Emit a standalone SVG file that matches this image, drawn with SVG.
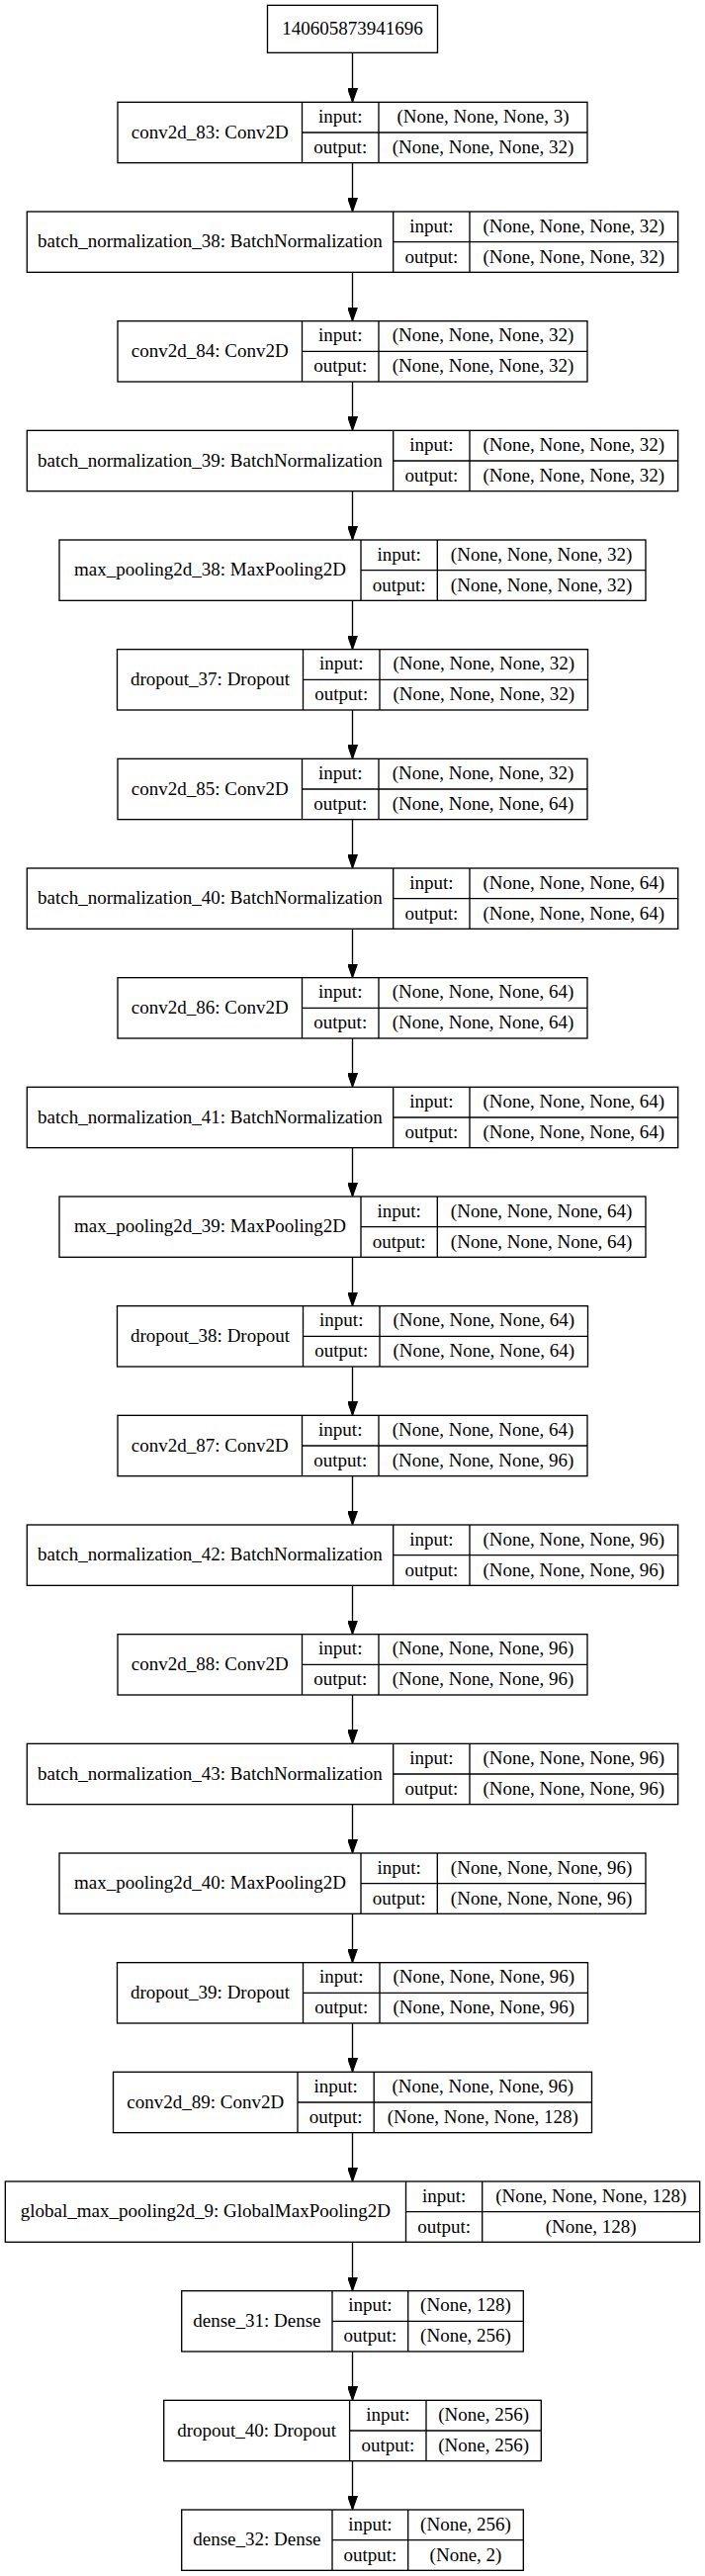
<svg xmlns="http://www.w3.org/2000/svg" width="713" height="2605" viewBox="0 0 713 2605">
<style>
.bx{fill:#fff;stroke:#000;stroke-width:1.33}
.ln{fill:none;stroke:#000;stroke-width:1.33}
.t{font-family:"Liberation Serif","Times New Roman",serif;font-size:19px;text-anchor:middle;fill:#000}
.e{fill:none;stroke:#000;stroke-width:1.33;marker-end:url(#ah)}
</style>
<defs>
<marker id="ah" markerUnits="userSpaceOnUse" markerWidth="14" markerHeight="10" viewBox="0 0 13.33 9.33" refX="13.33" refY="4.67" orient="auto">
<path d="M0,0 L13.33,4.67 L0,9.33 z" fill="#000" stroke="#000" stroke-width="1"/>
</marker>
</defs>
<rect width="713" height="2605" fill="#fff"/>
<g id="edges">
<path class="e" d="M356.5,53.33 V103.33"/>
<path class="e" d="M356.5,164.67 V214"/>
<path class="e" d="M356.5,275.33 V324.67"/>
<path class="e" d="M356.5,386 V435.33"/>
<path class="e" d="M356.5,496.67 V546"/>
<path class="e" d="M356.5,607.33 V656.67"/>
<path class="e" d="M356.5,718 V767.33"/>
<path class="e" d="M356.5,828.67 V878"/>
<path class="e" d="M356.5,939.33 V988.67"/>
<path class="e" d="M356.5,1050 V1099.33"/>
<path class="e" d="M356.5,1160.67 V1210"/>
<path class="e" d="M356.5,1271.33 V1320.67"/>
<path class="e" d="M356.5,1382 V1431.33"/>
<path class="e" d="M356.5,1492.67 V1542"/>
<path class="e" d="M356.5,1603.33 V1652.67"/>
<path class="e" d="M356.5,1714 V1763.33"/>
<path class="e" d="M356.5,1824.67 V1874"/>
<path class="e" d="M356.5,1935.33 V1984.67"/>
<path class="e" d="M356.5,2046 V2095.33"/>
<path class="e" d="M356.5,2156.67 V2206"/>
<path class="e" d="M356.5,2267.33 V2316.67"/>
<path class="e" d="M356.5,2378 V2427.33"/>
<path class="e" d="M356.5,2488.67 V2538"/>
</g>
<g id="input_140605873941696">
<rect class="bx" x="270.5" y="5.33" width="172" height="48"/>
<text class="t" x="356.5" y="34.8">140605873941696</text>
</g>
<g id="conv2d_83" transform="translate(0,103.33)">
<rect class="bx" x="119" y="0" width="475" height="61.33"/>
<path class="ln" d="M305.5,0 V61.33 M383,0 V61.33 M305.5,30.67 H594"/>
<text class="t" x="212.25" y="36.2">conv2d_83: Conv2D</text>
<text class="t" x="344.25" y="20.8">input:</text>
<text class="t" x="344.25" y="51.5">output:</text>
<text class="t" x="488.5" y="20.8">(None, None, None, 3)</text>
<text class="t" x="488.5" y="51.5">(None, None, None, 32)</text>
</g>
<g id="batch_normalization_38" transform="translate(0,214)">
<rect class="bx" x="27.3" y="0" width="658.4" height="61.33"/>
<path class="ln" d="M397.7,0 V61.33 M475,0 V61.33 M397.7,30.67 H685.7"/>
<text class="t" x="212.5" y="36.2">batch_normalization_38: BatchNormalization</text>
<text class="t" x="436.35" y="20.8">input:</text>
<text class="t" x="436.35" y="51.5">output:</text>
<text class="t" x="580.35" y="20.8">(None, None, None, 32)</text>
<text class="t" x="580.35" y="51.5">(None, None, None, 32)</text>
</g>
<g id="conv2d_84" transform="translate(0,324.67)">
<rect class="bx" x="119" y="0" width="475" height="61.33"/>
<path class="ln" d="M305.5,0 V61.33 M383,0 V61.33 M305.5,30.67 H594"/>
<text class="t" x="212.25" y="36.2">conv2d_84: Conv2D</text>
<text class="t" x="344.25" y="20.8">input:</text>
<text class="t" x="344.25" y="51.5">output:</text>
<text class="t" x="488.5" y="20.8">(None, None, None, 32)</text>
<text class="t" x="488.5" y="51.5">(None, None, None, 32)</text>
</g>
<g id="batch_normalization_39" transform="translate(0,435.33)">
<rect class="bx" x="27.3" y="0" width="658.4" height="61.33"/>
<path class="ln" d="M397.7,0 V61.33 M475,0 V61.33 M397.7,30.67 H685.7"/>
<text class="t" x="212.5" y="36.2">batch_normalization_39: BatchNormalization</text>
<text class="t" x="436.35" y="20.8">input:</text>
<text class="t" x="436.35" y="51.5">output:</text>
<text class="t" x="580.35" y="20.8">(None, None, None, 32)</text>
<text class="t" x="580.35" y="51.5">(None, None, None, 32)</text>
</g>
<g id="max_pooling2d_38" transform="translate(0,546)">
<rect class="bx" x="60" y="0" width="593" height="61.33"/>
<path class="ln" d="M365,0 V61.33 M442.3,0 V61.33 M365,30.67 H653"/>
<text class="t" x="212.5" y="36.2">max_pooling2d_38: MaxPooling2D</text>
<text class="t" x="403.65" y="20.8">input:</text>
<text class="t" x="403.65" y="51.5">output:</text>
<text class="t" x="547.65" y="20.8">(None, None, None, 32)</text>
<text class="t" x="547.65" y="51.5">(None, None, None, 32)</text>
</g>
<g id="dropout_37" transform="translate(0,656.67)">
<rect class="bx" x="118.5" y="0" width="476" height="61.33"/>
<path class="ln" d="M306.5,0 V61.33 M384,0 V61.33 M306.5,30.67 H594.5"/>
<text class="t" x="212.5" y="36.2">dropout_37: Dropout</text>
<text class="t" x="345.25" y="20.8">input:</text>
<text class="t" x="345.25" y="51.5">output:</text>
<text class="t" x="489.25" y="20.8">(None, None, None, 32)</text>
<text class="t" x="489.25" y="51.5">(None, None, None, 32)</text>
</g>
<g id="conv2d_85" transform="translate(0,767.33)">
<rect class="bx" x="119" y="0" width="475" height="61.33"/>
<path class="ln" d="M305.5,0 V61.33 M383,0 V61.33 M305.5,30.67 H594"/>
<text class="t" x="212.25" y="36.2">conv2d_85: Conv2D</text>
<text class="t" x="344.25" y="20.8">input:</text>
<text class="t" x="344.25" y="51.5">output:</text>
<text class="t" x="488.5" y="20.8">(None, None, None, 32)</text>
<text class="t" x="488.5" y="51.5">(None, None, None, 64)</text>
</g>
<g id="batch_normalization_40" transform="translate(0,878)">
<rect class="bx" x="27.3" y="0" width="658.4" height="61.33"/>
<path class="ln" d="M397.7,0 V61.33 M475,0 V61.33 M397.7,30.67 H685.7"/>
<text class="t" x="212.5" y="36.2">batch_normalization_40: BatchNormalization</text>
<text class="t" x="436.35" y="20.8">input:</text>
<text class="t" x="436.35" y="51.5">output:</text>
<text class="t" x="580.35" y="20.8">(None, None, None, 64)</text>
<text class="t" x="580.35" y="51.5">(None, None, None, 64)</text>
</g>
<g id="conv2d_86" transform="translate(0,988.67)">
<rect class="bx" x="119" y="0" width="475" height="61.33"/>
<path class="ln" d="M305.5,0 V61.33 M383,0 V61.33 M305.5,30.67 H594"/>
<text class="t" x="212.25" y="36.2">conv2d_86: Conv2D</text>
<text class="t" x="344.25" y="20.8">input:</text>
<text class="t" x="344.25" y="51.5">output:</text>
<text class="t" x="488.5" y="20.8">(None, None, None, 64)</text>
<text class="t" x="488.5" y="51.5">(None, None, None, 64)</text>
</g>
<g id="batch_normalization_41" transform="translate(0,1099.33)">
<rect class="bx" x="27.3" y="0" width="658.4" height="61.33"/>
<path class="ln" d="M397.7,0 V61.33 M475,0 V61.33 M397.7,30.67 H685.7"/>
<text class="t" x="212.5" y="36.2">batch_normalization_41: BatchNormalization</text>
<text class="t" x="436.35" y="20.8">input:</text>
<text class="t" x="436.35" y="51.5">output:</text>
<text class="t" x="580.35" y="20.8">(None, None, None, 64)</text>
<text class="t" x="580.35" y="51.5">(None, None, None, 64)</text>
</g>
<g id="max_pooling2d_39" transform="translate(0,1210)">
<rect class="bx" x="60" y="0" width="593" height="61.33"/>
<path class="ln" d="M365,0 V61.33 M442.3,0 V61.33 M365,30.67 H653"/>
<text class="t" x="212.5" y="36.2">max_pooling2d_39: MaxPooling2D</text>
<text class="t" x="403.65" y="20.8">input:</text>
<text class="t" x="403.65" y="51.5">output:</text>
<text class="t" x="547.65" y="20.8">(None, None, None, 64)</text>
<text class="t" x="547.65" y="51.5">(None, None, None, 64)</text>
</g>
<g id="dropout_38" transform="translate(0,1320.67)">
<rect class="bx" x="118.5" y="0" width="476" height="61.33"/>
<path class="ln" d="M306.5,0 V61.33 M384,0 V61.33 M306.5,30.67 H594.5"/>
<text class="t" x="212.5" y="36.2">dropout_38: Dropout</text>
<text class="t" x="345.25" y="20.8">input:</text>
<text class="t" x="345.25" y="51.5">output:</text>
<text class="t" x="489.25" y="20.8">(None, None, None, 64)</text>
<text class="t" x="489.25" y="51.5">(None, None, None, 64)</text>
</g>
<g id="conv2d_87" transform="translate(0,1431.33)">
<rect class="bx" x="119" y="0" width="475" height="61.33"/>
<path class="ln" d="M305.5,0 V61.33 M383,0 V61.33 M305.5,30.67 H594"/>
<text class="t" x="212.25" y="36.2">conv2d_87: Conv2D</text>
<text class="t" x="344.25" y="20.8">input:</text>
<text class="t" x="344.25" y="51.5">output:</text>
<text class="t" x="488.5" y="20.8">(None, None, None, 64)</text>
<text class="t" x="488.5" y="51.5">(None, None, None, 96)</text>
</g>
<g id="batch_normalization_42" transform="translate(0,1542)">
<rect class="bx" x="27.3" y="0" width="658.4" height="61.33"/>
<path class="ln" d="M397.7,0 V61.33 M475,0 V61.33 M397.7,30.67 H685.7"/>
<text class="t" x="212.5" y="36.2">batch_normalization_42: BatchNormalization</text>
<text class="t" x="436.35" y="20.8">input:</text>
<text class="t" x="436.35" y="51.5">output:</text>
<text class="t" x="580.35" y="20.8">(None, None, None, 96)</text>
<text class="t" x="580.35" y="51.5">(None, None, None, 96)</text>
</g>
<g id="conv2d_88" transform="translate(0,1652.67)">
<rect class="bx" x="119" y="0" width="475" height="61.33"/>
<path class="ln" d="M305.5,0 V61.33 M383,0 V61.33 M305.5,30.67 H594"/>
<text class="t" x="212.25" y="36.2">conv2d_88: Conv2D</text>
<text class="t" x="344.25" y="20.8">input:</text>
<text class="t" x="344.25" y="51.5">output:</text>
<text class="t" x="488.5" y="20.8">(None, None, None, 96)</text>
<text class="t" x="488.5" y="51.5">(None, None, None, 96)</text>
</g>
<g id="batch_normalization_43" transform="translate(0,1763.33)">
<rect class="bx" x="27.3" y="0" width="658.4" height="61.33"/>
<path class="ln" d="M397.7,0 V61.33 M475,0 V61.33 M397.7,30.67 H685.7"/>
<text class="t" x="212.5" y="36.2">batch_normalization_43: BatchNormalization</text>
<text class="t" x="436.35" y="20.8">input:</text>
<text class="t" x="436.35" y="51.5">output:</text>
<text class="t" x="580.35" y="20.8">(None, None, None, 96)</text>
<text class="t" x="580.35" y="51.5">(None, None, None, 96)</text>
</g>
<g id="max_pooling2d_40" transform="translate(0,1874)">
<rect class="bx" x="60" y="0" width="593" height="61.33"/>
<path class="ln" d="M365,0 V61.33 M442.3,0 V61.33 M365,30.67 H653"/>
<text class="t" x="212.5" y="36.2">max_pooling2d_40: MaxPooling2D</text>
<text class="t" x="403.65" y="20.8">input:</text>
<text class="t" x="403.65" y="51.5">output:</text>
<text class="t" x="547.65" y="20.8">(None, None, None, 96)</text>
<text class="t" x="547.65" y="51.5">(None, None, None, 96)</text>
</g>
<g id="dropout_39" transform="translate(0,1984.67)">
<rect class="bx" x="118.5" y="0" width="476" height="61.33"/>
<path class="ln" d="M306.5,0 V61.33 M384,0 V61.33 M306.5,30.67 H594.5"/>
<text class="t" x="212.5" y="36.2">dropout_39: Dropout</text>
<text class="t" x="345.25" y="20.8">input:</text>
<text class="t" x="345.25" y="51.5">output:</text>
<text class="t" x="489.25" y="20.8">(None, None, None, 96)</text>
<text class="t" x="489.25" y="51.5">(None, None, None, 96)</text>
</g>
<g id="conv2d_89" transform="translate(0,2095.33)">
<rect class="bx" x="114.5" y="0" width="484" height="61.33"/>
<path class="ln" d="M301,0 V61.33 M378.2,0 V61.33 M301,30.67 H598.5"/>
<text class="t" x="207.75" y="36.2">conv2d_89: Conv2D</text>
<text class="t" x="339.6" y="20.8">input:</text>
<text class="t" x="339.6" y="51.5">output:</text>
<text class="t" x="488.35" y="20.8">(None, None, None, 96)</text>
<text class="t" x="488.35" y="51.5">(None, None, None, 128)</text>
</g>
<g id="global_max_pooling2d_9" transform="translate(0,2206)">
<rect class="bx" x="5.33" y="0" width="702.34" height="61.33"/>
<path class="ln" d="M410.5,0 V61.33 M487.7,0 V61.33 M410.5,30.67 H707.67"/>
<text class="t" x="207.9" y="36.2">global_max_pooling2d_9: GlobalMaxPooling2D</text>
<text class="t" x="449.1" y="20.8">input:</text>
<text class="t" x="449.1" y="51.5">output:</text>
<text class="t" x="597.7" y="20.8">(None, None, None, 128)</text>
<text class="t" x="597.7" y="51.5">(None, 128)</text>
</g>
<g id="dense_31" transform="translate(0,2316.67)">
<rect class="bx" x="183.7" y="0" width="345.6" height="61.33"/>
<path class="ln" d="M336,0 V61.33 M412.7,0 V61.33 M336,30.67 H529.3"/>
<text class="t" x="259.85" y="36.2">dense_31: Dense</text>
<text class="t" x="374.35" y="20.8">input:</text>
<text class="t" x="374.35" y="51.5">output:</text>
<text class="t" x="471" y="20.8">(None, 128)</text>
<text class="t" x="471" y="51.5">(None, 256)</text>
</g>
<g id="dropout_40" transform="translate(0,2427.33)">
<rect class="bx" x="165.7" y="0" width="381.6" height="61.33"/>
<path class="ln" d="M353.6,0 V61.33 M431,0 V61.33 M353.6,30.67 H547.3"/>
<text class="t" x="259.65" y="36.2">dropout_40: Dropout</text>
<text class="t" x="392.3" y="20.8">input:</text>
<text class="t" x="392.3" y="51.5">output:</text>
<text class="t" x="489.15" y="20.8">(None, 256)</text>
<text class="t" x="489.15" y="51.5">(None, 256)</text>
</g>
<g id="dense_32" transform="translate(0,2538)">
<rect class="bx" x="183.7" y="0" width="345.6" height="61.33"/>
<path class="ln" d="M336,0 V61.33 M412.7,0 V61.33 M336,30.67 H529.3"/>
<text class="t" x="259.85" y="36.2">dense_32: Dense</text>
<text class="t" x="374.35" y="20.8">input:</text>
<text class="t" x="374.35" y="51.5">output:</text>
<text class="t" x="471" y="20.8">(None, 256)</text>
<text class="t" x="471" y="51.5">(None, 2)</text>
</g>
</svg>
